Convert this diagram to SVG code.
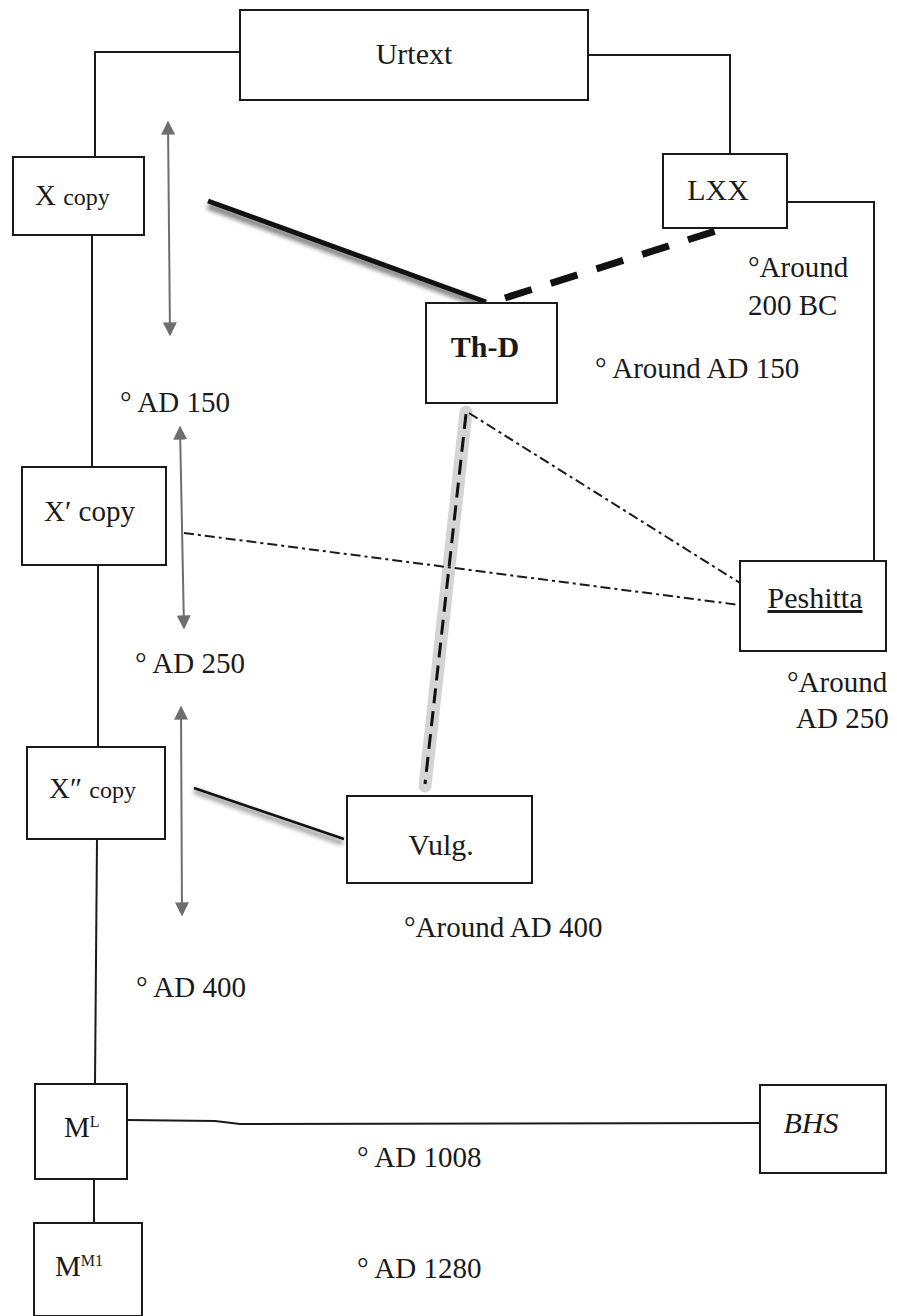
<svg xmlns="http://www.w3.org/2000/svg" width="897" height="1316" viewBox="0 0 897 1316">
<style>
.box{fill:#fff;stroke:#1a1a1a;stroke-width:2}
.t{font-family:"Liberation Serif","Times New Roman",serif;font-size:29px;fill:#1a1a1a}
.n{font-family:"Liberation Serif","Times New Roman",serif;font-size:30px;fill:#1a1a1a;text-anchor:middle}
.ln{fill:none;stroke:#1a1a1a;stroke-width:2}
.dd{fill:none;stroke:#1a1a1a;stroke-width:2;stroke-dasharray:10 4 3 4}
.ga{fill:none;stroke:#6e6e6e;stroke-width:2;marker-start:url(#ah);marker-end:url(#ah)}
</style>
<defs>
<marker id="ah" viewBox="0 0 10 10" refX="9" refY="5" markerWidth="7" markerHeight="7" markerUnits="strokeWidth" orient="auto-start-reverse">
<path d="M0,0 L10,5 L0,10 Z" fill="#6e6e6e"/>
</marker>
<filter id="blur" x="-20%" y="-50%" width="140%" height="200%"><feGaussianBlur stdDeviation="2"/></filter>
</defs>
<rect width="897" height="1316" fill="#fff"/>

<g id="connectors">
<polyline class="ln" points="240,52 95,52 95,157"/>
<polyline class="ln" points="588,55 730,55 730,154"/>
<polyline class="ln" points="787,202 874,202 874,561"/>
<line class="ln" x1="92" y1="235" x2="92" y2="467"/>
<line class="ln" x1="98" y1="565" x2="98" y2="747"/>
<line class="ln" x1="97" y1="839" x2="95" y2="1084"/>
<line class="ln" x1="94" y1="1179" x2="94" y2="1223"/>
<polyline class="ln" points="127,1120 215,1121 240,1124 760,1123"/>
<line x1="208" y1="206" x2="486" y2="306" stroke="#888" stroke-width="7" filter="url(#blur)"/>
<line x1="208" y1="201" x2="486" y2="302" stroke="#111" stroke-width="5"/>
<line x1="505" y1="298" x2="725" y2="228" stroke="#111" stroke-width="7" stroke-dasharray="28 20"/>
<line x1="466" y1="412" x2="425" y2="786" stroke="#d4d4d4" stroke-width="13" stroke-linecap="round"/>
<line x1="466" y1="414" x2="425" y2="784" stroke="#111" stroke-width="3" stroke-dasharray="15 8"/>
<line x1="194" y1="791" x2="343" y2="843" stroke="#aaa" stroke-width="6" filter="url(#blur)"/>
<line x1="194" y1="788" x2="344" y2="839" stroke="#111" stroke-width="2.5"/>
<line class="dd" x1="469" y1="413" x2="740" y2="583"/>
<line class="dd" x1="184" y1="533" x2="740" y2="605"/>
<line class="ga" x1="168" y1="122" x2="170" y2="335"/>
<line class="ga" x1="180" y1="427" x2="184" y2="628"/>
<line class="ga" x1="181" y1="707" x2="182" y2="915"/>
</g>

<g id="urtext"><rect class="box" x="240" y="10" width="348" height="90"/><text class="n" x="414" y="64">Urtext</text></g>
<g id="lxx"><rect class="box" x="663" y="154" width="124" height="74"/><text class="n" x="718" y="200">LXX</text></g>
<g id="xcopy"><rect class="box" x="13" y="157" width="131" height="78"/><text class="t" x="35" y="205">X <tspan font-size="24">copy</tspan></text></g>
<g id="thd"><rect class="box" x="426" y="303" width="131" height="100"/><text class="n" x="485" y="357" font-weight="bold" font-size="28">Th-D</text></g>
<g id="xpcopy"><rect class="box" x="22" y="467" width="144" height="98"/><text class="t" x="44" y="521">X′ copy</text></g>
<g id="peshitta"><rect class="box" x="740" y="561" width="146" height="90"/><text class="n" x="815" y="608" text-decoration="underline">Peshitta</text></g>
<g id="xppcopy"><rect class="box" x="27" y="747" width="138" height="92"/><text class="t" x="49" y="798">X″ <tspan font-size="24">copy</tspan></text></g>
<g id="vulg"><rect class="box" x="347" y="796" width="185" height="87"/><text class="n" x="441" y="855">Vulg.</text></g>
<g id="ml"><rect class="box" x="35" y="1084" width="92" height="95"/><text class="t" x="64" y="1137">M<tspan font-size="16" dy="-10">L</tspan></text></g>
<g id="bhs"><rect class="box" x="760" y="1085" width="126" height="88"/><text class="n" x="811" y="1133" font-style="italic">BHS</text></g>
<g id="mm1"><rect class="box" x="34" y="1223" width="108" height="93"/><text class="t" x="55" y="1276">M<tspan font-size="16" dy="-10">M1</tspan></text></g>

<g id="dates">
<text class="t" x="120" y="412">° AD 150</text>
<text class="t" x="135" y="673">° AD 250</text>
<text class="t" x="136" y="997">° AD 400</text>
<text class="t" x="357" y="1167">° AD 1008</text>
<text class="t" x="357" y="1278">° AD 1280</text>
<text class="t" x="748" y="277">°Around</text>
<text class="t" x="748" y="315">200 BC</text>
<text class="t" x="595" y="378">° Around AD 150</text>
<text class="t" x="787" y="692">°Around</text>
<text class="t" x="796" y="728">AD 250</text>
<text class="t" x="404" y="937">°Around AD 400</text>
</g>
</svg>
